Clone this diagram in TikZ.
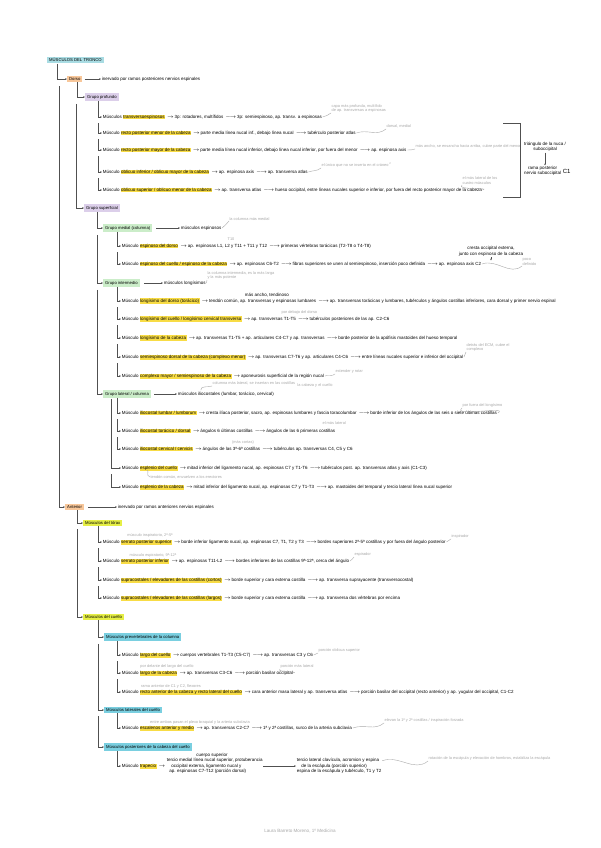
\documentclass[tikz,border=0pt]{standalone}
\usepackage{fontspec}
\setmainfont{Liberation Sans}
\usetikzlibrary{arrows.meta,calc}
\definecolor{ctitle}{HTML}{A9DCE3}
\definecolor{corange}{HTML}{F8C79A}
\definecolor{cpurple}{HTML}{DCCFEA}
\definecolor{cgreen}{HTML}{CBEDC9}
\definecolor{cygreen}{HTML}{E6EF46}
\definecolor{ccyan}{HTML}{7ACFE0}
\definecolor{hly}{HTML}{F8DC45}
\definecolor{notec}{HTML}{A9A9A9}
\definecolor{linec}{HTML}{505050}
\newcommand\hlt[1]{{\setlength{\fboxsep}{0.4pt}\colorbox{hly}{#1}}}
\newcommand\ra{\,$\rightarrow$\,}
\newcommand\lra{\,$\longrightarrow$\,}
\begin{document}
\begin{tikzpicture}[x=1pt,y=-1pt,
  base/.style={font=\fontsize{4.5}{5.3}\selectfont, inner sep=0.6pt},
  row/.style={base, anchor=west},
  tbox/.style={font=\fontsize{4.2}{5}\selectfont, anchor=west, inner xsep=2pt, inner ysep=1.6pt},
  note/.style={font=\fontsize{3.9}{4.5}\selectfont, text=notec, inner sep=0.4pt, align=left},
  conn/.style={draw=linec, line width=0.55pt, -{Stealth[length=1.8pt,width=1.6pt]}},
  notel/.style={draw=notec, line width=0.4pt}]
\useasboundingbox[fill=white] (0,0) rectangle (600,848);

% ---------------- main boxes
\node[tbox, fill=ctitle] (title) at (47,60) {MÚSCULOS DEL TRONCO};
\node[tbox, fill=corange] (dorso) at (67,79) {Dorso};
\node[row] (dorsot) at (101,79) {inervado por ramos posteriores nervios espinales};
\draw[conn] ($(dorso.east)+(2,0)$) -- (dorsot.west);
\node[tbox, fill=cpurple] (gprof) at (85,97) {Grupo profundo};
\node[tbox, fill=cpurple] (gsup) at (84,208) {Grupo superficial};
\node[tbox, fill=corange] (anter) at (65,507) {Anterior};
\node[row] (antert) at (117,507) {inervado por ramos anteriores nervios espinales};
\draw[conn] ($(anter.east)+(4,0)$) -- (antert.west);

\coordinate (Lt) at ($(title.south west)+(10,0)$);
\draw[conn] (Lt) |- (dorso.west);
\draw[conn] ($(Lt |- dorso.south)+(2,4)$) |- (anter.west);
\coordinate (Ld) at ($(dorso.south west)+(10,0)$);
\draw[conn] (Ld) |- (gprof.west);
\draw[conn] ($(Ld |- gprof.south)+(-1,3)$) |- (gsup.west);

% ---------------- grupo profundo
\node[row] (p1) at (102,117) {Músculos \hlt{transversoespinosos} \ra 3p: rotadores, multífidos \lra 3p: semiespinoso, ap. transv. a espinosas};
\node[row] (p2) at (102,133) {Músculo \hlt{recto posterior menor de la cabeza} \ra parte media línea nucal inf., debajo línea nucal \lra tubérculo posterior atlas};
\node[row] (p3) at (102,150) {Músculo \hlt{recto posterior mayor de la cabeza} \ra parte media línea nucal inferior, debajo línea nucal inferior, por fuera del menor \lra ap. espinosa axis};
\node[row] (p4) at (102,172) {Músculo \hlt{oblicuo inferior / oblicuo mayor de la cabeza} \ra ap. espinosa axis \lra ap. transversa atlas};
\node[row] (p5) at (102,190) {Músculo \hlt{oblicuo superior / oblicuo menor de la cabeza} \ra ap. transversa atlas \lra hueso occipital, entre líneas nucales superior e inferior, por fuera del recto posterior mayor de la cabeza};
\coordinate (Lp) at ($(gprof.south west)+(13,0)$);
\draw[conn] (Lp) |- (p1.west);
\draw[conn] ($(Lp |- p1.south)+(0,3)$) |- (p2.west);
\draw[conn] ($(Lp |- p2.south)+(0,3)$) |- (p3.west);
\draw[conn] ($(Lp |- p3.south)+(0,3)$) |- (p4.west);
\draw[conn] ($(Lp |- p4.south)+(0,3)$) |- (p5.west);

\node[note, anchor=south west] (np1) at (331,113) {capa más profunda, multífido\\ de ap. transversas a espinosas};
\draw[notel] (p1.east) to[out=20,in=220] (np1.south west);
\node[note, anchor=south west] (np2) at (386,129) {dorsal, medial};
\draw[notel] (p2.east) to[out=20,in=220] (np2.south west);
\node[note, anchor=south west] (np3) at (415,149) {más ancho, se ensancha hacia arriba, cubre parte del menor};
\draw[notel] (p3.east) to[out=20,in=220] (np3.south west);
\node[note, anchor=south west] (np4) at (321,168) {el único que no se inserta en el cráneo\,\textsuperscript{2}};
\draw[notel] (p4.east) to[out=20,in=220] (np4.south west);
\node[note, anchor=south west] (np5) at (462,185) {el más lateral de los\\ cuatro músculos};
\draw[notel] (p5.east) to[out=20,in=220] (np5.south west);

% bracket: triangulo suboccipital
\draw[linec, line width=0.6pt] (503,123) -| (520,197) -- (503,197);
\node[base, align=center] (tri) at (545,147) {triángulo de la nuca /\\ suboccipital};
\node[base, align=center, anchor=east] (nsub) at (562,171) {rama posterior\\ nervio suboccipital};
\node[base, anchor=west, font=\fontsize{6}{6}\selectfont] (c1lab) at (nsub.east) {C1};
\draw[conn] (tri.south) -- (tri.south |- nsub.north);

% ---------------- grupo superficial
\node[tbox, fill=cgreen] (gmed) at (103,228) {Grupo medial (columna)};
\node[row] (gmedt) at (180,228) {músculos espinosos};
\draw[conn] ($(gmed.east)+(4,0)$) -- (gmedt.west);
\node[tbox, fill=cgreen] (ginter) at (103,283) {Grupo intermedio};
\node[row] (gintert) at (163,283) {músculos longísimos};
\draw[conn] ($(ginter.east)+(4,0)$) -- (gintert.west);
\node[tbox, fill=cgreen] (glat) at (103,394) {Grupo lateral / columna};
\node[row] (glatt) at (177,394) {músculos iliocostales (lumbar, torácico, cervical)};
\draw[conn] ($(glat.east)+(3,0)$) -- (glatt.west);
\coordinate (Ls) at ($(gsup.south west)+(13,0)$);
\draw[conn] (Ls) |- (gmed.west);
\draw[conn] ($(Ls |- gmed.south)+(0,3)$) |- (ginter.west);
\draw[conn] ($(Ls |- ginter.south)+(0,3)$) |- (glat.west);

\node[note, anchor=south west] (ngmed) at (229,221) {la columna más medial};
\draw[notel] (gmedt.east) to[out=30,in=220] (ngmed.south west);
\node[note, anchor=south west] (ngint) at (207,280) {la columna intermedia, es la más larga\\ y la más potente};
\draw[notel] (gintert.east) to[out=30,in=220] (ngint.south west);
\node[note, anchor=south west] (nglat) at (212,386) {columna más lateral, se insertan en las costillas};
\draw[notel] (glatt.north) ++(-25,-1) to[out=90,in=200] (nglat.south west);

% medial rows
\node[row] (m1) at (121,246) {Músculo \hlt{espinoso del dorso} \ra ap. espinosas L1, L2 y T11 + T11 y T12 \lra primeras vértebras torácicas (T2-T8 o T4-T8)};
\node[row] (m2) at (121,264) {Músculo \hlt{espinoso del cuello / espinoso de la cabeza} \ra ap. espinosas C6-T2 \lra fibras superiores se unen al semiespinoso, inserción poco definida \lra ap. espinosa axis C2};
\coordinate (Lm) at ($(gmed.south west)+(14,0)$);
\draw[conn] (Lm) |- (m1.west);
\draw[conn] ($(Lm |- m1.south)+(0,3)$) |- (m2.west);
\node[note] (nm1) at (231,239) {T10};
\node[base, align=center, anchor=south] (m2n) at (491,257) {cresta occipital externa,\\ junto con espinoso de la cabeza};
\draw[conn] (m2n.south) -- ($(m2n.south)+(0,3.5)$);
\node[note, anchor=south west] (nm2) at (522,266) {poco\\ definido};
\draw[notel] (m2.east) to[out=20,in=220] (nm2.south west);

% intermedio rows
\node[row] (i1) at (121,301) {Músculo \hlt{longísimo del dorso (torácico)} \ra tendón común, ap. transversas y espinosas lumbares \lra ap. transversas torácicas y lumbares, tubérculos y ángulos costillas inferiores, cara dorsal y primer nervio espinal};
\node[row] (i2) at (121,319) {Músculo \hlt{longísimo del cuello / longísimo cervical transverso} \ra ap. transversas T1-T5 \lra tubérculos posteriores de las ap. C2-C6};
\node[row] (i3) at (121,338) {Músculo \hlt{longísimo de la cabeza} \ra ap. transversas T1-T5 + ap. articulares C4-C7 y ap. transversas \lra borde posterior de la apófisis mastoides del hueso temporal};
\node[row] (i4) at (121,357) {Músculo \hlt{semiespinoso dorsal de la cabeza (complexo menor)} \ra ap. transversas C7-T6 y ap. articulares C4-C6 \lra entre líneas nucales superior e inferior del occipital};
\node[row] (i5) at (121,376) {Músculo \hlt{complexo mayor / semiespinoso de la cabeza} \ra aponeurosis superficial de la región nucal};
\coordinate (Li) at ($(ginter.south west)+(14,0)$);
\draw[conn] (Li) |- (i1.west);
\draw[conn] ($(Li |- i1.south)+(0,3)$) |- (i2.west);
\draw[conn] ($(Li |- i2.south)+(0,3)$) |- (i3.west);
\draw[conn] ($(Li |- i3.south)+(0,3)$) |- (i4.west);
\draw[conn] ($(Li |- i4.south)+(0,3)$) |- (i5.west);
\node[base, anchor=south west] (ni1) at (244,298) {más ancho, tendinoso};
\node[note, anchor=south west] (ni2) at (281,315) {por debajo del dorso};
\node[note, anchor=south west] (ni4) at (466,352) {detrás del ECM, cubre el\\ complexo};
\draw[notel] (i4.east) to[out=60,in=230] (ni4.south west);
\node[note, anchor=south west] (ni5) at (335,374) {extender y rotar};
\draw[notel] (i5.east) to[out=20,in=220] (ni5.south west);
\node[note] (ni5b) at (315,385) {la cabeza y el cuello};

% lateral rows
\node[row] (l1) at (121,413) {Músculo \hlt{iliocostal lumbar / lumborum} \ra cresta ilíaca posterior, sacro, ap. espinosas lumbares y fascia toracolumbar \lra borde inferior de los ángulos de las seis o siete últimas costillas};
\node[row] (l2) at (121,431) {Músculo \hlt{iliocostal torácico / dorsal} \ra ángulos 6 últimas costillas \lra ángulos de las 6 primeras costillas};
\node[row] (l3) at (121,449) {Músculo \hlt{iliocostal cervical / cervicis} \ra ángulos de las 3ª-6ª costillas \lra tubérculos ap. transversas C4, C5 y C6};
\node[row] (e1) at (121,468) {Músculo \hlt{esplenio del cuello} \ra mitad inferior del ligamento nucal, ap. espinosas C7 y T1-T6 \lra tubérculos post. ap. transversas atlas y axis (C1-C3)};
\node[row] (e2) at (121,487) {Músculo \hlt{esplenio de la cabeza} \ra mitad inferior del ligamento nucal, ap. espinosas C7 y T1-T3 \lra ap. mastoides del temporal y tercio lateral línea nucal superior};
\coordinate (Ll) at ($(glat.south west)+(14,0)$);
\draw[conn] (Ll) |- (l1.west);
\draw[conn] ($(Ll |- l1.south)+(0,3)$) |- (l2.west);
\draw[conn] ($(Ll |- l2.south)+(0,3)$) |- (l3.west);
\coordinate (Le) at ($(glat.south west)+(8,1)$);
\draw[conn] (Le) |- (e1.west);
\draw[conn] ($(Le |- e1.south)+(0,3)$) |- (e2.west);
\node[note, anchor=south west] (nl1) at (462,408) {por fuera del longísimo};
\draw[notel] (l1.east) to[out=30,in=220] (nl1.south west);
\node[note, anchor=south west] (nl2) at (322,425) {el más lateral};
\node[note] (nl3) at (243,442) {(más cortas)};
\node[note, anchor=west] (ne) at (150,477) {tendón común, envuelven a los erectores};
\draw[notel] (ne.west) .. controls (145,475) and (150,472) .. (147,470);

% ---------------- anterior: torax
\node[tbox, fill=cygreen] (mtor) at (83,523) {Músculos del tórax};
\node[tbox, fill=cygreen] (mcue) at (83,617) {Músculos del cuello};
\coordinate (La) at ($(anter.south west)+(12,0)$);
\draw[conn] (La) |- (mtor.west);
\draw[conn] ($(La |- mtor.south)+(0,3)$) |- (mcue.west);

\node[row] (t1) at (102,542) {Músculo \hlt{serrato posterior superior} \ra borde inferior ligamento nucal, ap. espinosas C7, T1, T2 y T3 \lra bordes superiores 2ª-5ª costillas y por fuera del ángulo posterior};
\node[row] (t2) at (102,561) {Músculo \hlt{serrato posterior inferior} \ra ap. espinosas T11-L2 \lra bordes inferiores de las costillas 9ª-12ª, cerca del ángulo};
\node[row] (t3) at (102,580) {Músculo \hlt{supracostales / elevadores de las costillas (cortos)} \ra borde superior y cara externa costilla \lra ap. transversa suprayacente (transversocostal)};
\node[row] (t4) at (102,598) {Músculo \hlt{supracostales / elevadores de las costillas (largos)} \ra borde superior y cara externa costilla \lra ap. transversa dos vértebras por encima};
\coordinate (Lx) at ($(mtor.south west)+(15,0)$);
\draw[conn] (Lx) |- (t1.west);
\draw[conn] ($(Lx |- t1.south)+(0,3)$) |- (t2.west);
\draw[conn] ($(Lx |- t2.south)+(0,3)$) |- (t3.west);
\draw[conn] ($(Lx |- t3.south)+(0,3)$) |- (t4.west);
\node[note] (nt1a) at (150,535) {músculo inspiratorio, 2ª-5ª};
\node[note, anchor=south west] (nt1b) at (451,539) {inspirador};
\draw[notel] (t1.east) to[out=20,in=220] (nt1b.south west);
\node[note] (nt2a) at (153,555) {músculo espiratorio, 9ª-12ª};
\node[note, anchor=south west] (nt2b) at (354,557) {espirador};
\draw[notel] (t2.east) to[out=20,in=220] (nt2b.south west);

% ---------------- anterior: cuello
\node[tbox, fill=ccyan] (cc1) at (104,637) {Músculos prevertebrales de la columna};
\node[tbox, fill=ccyan] (cc2) at (104,710) {Músculos laterales del cuello};
\node[tbox, fill=ccyan] (cc3) at (104,747) {Músculos posteriores de la cabeza del cuello};
\coordinate (Lc) at ($(mcue.south west)+(15,0)$);
\draw[conn] (Lc) |- (cc1.west);
\draw[conn] ($(Lc |- cc1.south)+(0,3)$) |- (cc2.west);
\draw[conn] ($(Lc |- cc2.south)+(0,3)$) |- (cc3.west);

\node[row] (k1) at (121,655) {Músculo \hlt{largo del cuello} \ra cuerpos vertebrales T1-T3 (C5-C7) \lra ap. transversas C3 y C6};
\node[row] (k2) at (121,673) {Músculo \hlt{largo de la cabeza} \ra ap. transversas C3-C6 \lra porción basilar occipital};
\node[row] (k3) at (121,692) {Músculo \hlt{recto anterior de la cabeza y recto lateral del cuello} \ra cara anterior masa lateral y ap. transversa atlas \lra porción basilar del occipital (recto anterior) y ap. yugular del occipital, C1-C2};
\coordinate (Lk) at ($(cc1.south west)+(13,0)$);
\draw[conn] (Lk) |- (k1.west);
\draw[conn] ($(Lk |- k1.south)+(0,3)$) |- (k2.west);
\draw[conn] ($(Lk |- k2.south)+(0,3)$) |- (k3.west);
\node[note, anchor=south west] (nk1) at (318,653) {porción oblicua superior};
\draw[notel] (k1.east) to[out=20,in=220] (nk1.south west);
\node[note] (nk2a) at (167,666) {por delante del largo del cuello};
\node[note, anchor=south west] (nk2b) at (280,669) {porción más lateral};
\draw[notel] (k2.east) to[out=20,in=220] (nk2b.south west);
\node[note] (nk3) at (171,686) {rama anterior de C1 y C2, flexores};

\node[row] (s1) at (121,728) {Músculo \hlt{escalenos anterior y medio} \ra ap. transversas C2-C7 \lra 1ª y 2ª costillas, surco de la arteria subclavia};
\coordinate (Lz) at ($(cc2.south west)+(13,0)$);
\draw[conn] (Lz) |- (s1.west);
\node[note] (ns1a) at (200,722) {entre ambos pasan el plexo braquial y la arteria subclavia};
\node[note, anchor=south west] (ns1b) at (384,723) {elevan la 1ª y 2ª costillas / inspiración forzada};
\draw[notel] (s1.east) to[out=20,in=220] (ns1b.south west);

\node[row] (r1) at (121,766) {Músculo \hlt{trapecio} \ra};
\node[base, anchor=south] (r1top) at (212,758) {cuerpo superior};
\node[base, align=left, anchor=west] (r1a) at (166,766) {tercio medial línea nucal superior, protuberancia\\ \quad occipital externa, ligamento nucal y\\ \ \ ap. espinosas C7-T12 (porción dorsal)};
\node[base, align=left, anchor=west] (r1b) at (296,766) {tercio lateral clavícula, acromion y espina\\ \quad de la escápula (porción superior)\\ espina de la escápula y tubérculo, T1 y T2};
\draw[conn] (r1a.east) -- (r1b.west);
\coordinate (Lr) at ($(cc3.south west)+(13,0)$);
\draw[conn] (Lr) |- (r1.west);
\node[note, anchor=south west] (nr1) at (428,761) {rotación de la escápula y elevación de hombros, estabiliza la escápula};
\draw[notel] ($(r1b.north east)+(0,3)$) to[out=20,in=220] (nr1.south west);

% footer
\node[font=\fontsize{4.6}{5}\selectfont, text=notec] (foot) at (300,831) {Laura Barreto Moreno, 1º Medicina};
\end{tikzpicture}
\end{document}
